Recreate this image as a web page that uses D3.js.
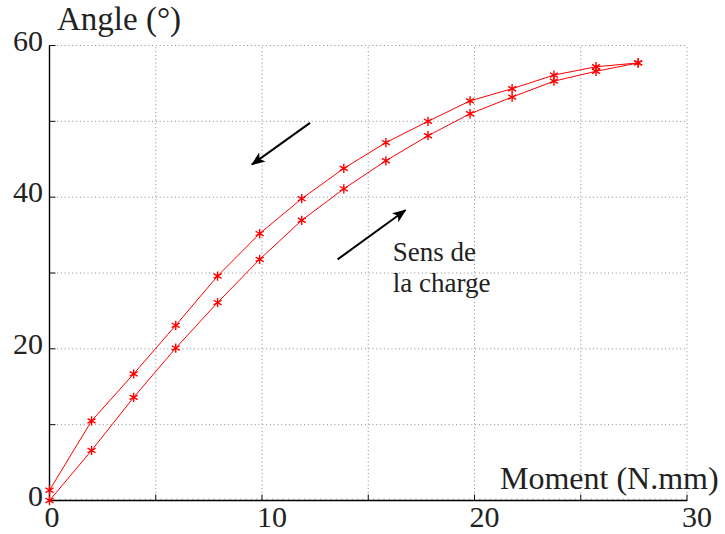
<!DOCTYPE html>
<html>
<head>
<meta charset="utf-8">
<script src="https://cdn.jsdelivr.net/npm/d3@7"></script>
<style>
  body { margin: 0; background: #fff; }
  text { font-family: "Liberation Serif", "Times New Roman", serif; fill: #222; }
</style>
</head>
<body>
<svg id="chart" width="725" height="534"></svg>
<script>
// moment values (N.mm) at each load step
var moment = [0, 1.98, 3.96, 5.94, 7.91, 9.89, 11.87, 13.85, 15.83, 17.81, 19.79, 21.77, 23.74, 25.72, 27.70];
// angle (deg) while loading
var angleCharge = [0, 6.6, 13.6, 20.1, 26.1, 31.8, 36.95, 41.1, 44.8, 48.1, 51.0, 53.2, 55.3, 56.6, 57.7];
// angle (deg) while unloading
var angleDecharge = [1.35, 10.5, 16.7, 23.1, 29.6, 35.2, 39.8, 43.8, 47.2, 50.0, 52.7, 54.3, 56.1, 57.2, 57.7];

var xTickLabels = [0, 10, 20, 30];
var yTickLabels = [0, 20, 40, 60];
var xGrid = [5, 10, 15, 20, 25, 30];
var yGrid = [10, 20, 30, 40, 50, 60];

var svg = d3.select("#chart");

var x = d3.scaleLinear().domain([0, 30]).range([49.5, 687]);
var y = d3.scaleLinear().domain([0, 60]).range([500.5, 45.5]);

// dotted grid
svg.append("g").selectAll("line").data(xGrid).join("line")
    .attr("x1", d => x(d)).attr("x2", d => x(d))
    .attr("y1", y(0)).attr("y2", y(60))
    .attr("stroke", "#888").attr("stroke-width", 1)
    .attr("stroke-dasharray", "1,2.8");
svg.append("g").selectAll("line").data(yGrid).join("line")
    .attr("x1", x(0)).attr("x2", x(30))
    .attr("y1", d => y(d)).attr("y2", d => y(d))
    .attr("stroke", "#888").attr("stroke-width", 1)
    .attr("stroke-dasharray", "1,2.8");

// minor ticks on the bottom axis
svg.append("g").selectAll("line").data(d3.range(0, 30.01, 0.25)).join("line")
    .attr("x1", d => x(d)).attr("x2", d => x(d))
    .attr("y1", y(0)).attr("y2", y(0) - 2)
    .attr("stroke", "#777").attr("stroke-width", 0.6);

// major ticks, pointing inward
svg.append("g").selectAll("line").data(xGrid).join("line")
    .attr("x1", d => x(d)).attr("x2", d => x(d))
    .attr("y1", y(0)).attr("y2", y(0) - 6)
    .attr("stroke", "#111").attr("stroke-width", 1);
svg.append("g").selectAll("line").data(yGrid).join("line")
    .attr("x1", x(0)).attr("x2", x(0) + 6)
    .attr("y1", d => y(d)).attr("y2", d => y(d))
    .attr("stroke", "#111").attr("stroke-width", 1);

// axis lines (left + bottom only)
svg.append("line")
    .attr("x1", x(0)).attr("x2", x(0)).attr("y1", y(0)).attr("y2", y(60))
    .attr("stroke", "#000").attr("stroke-width", 1.4);
svg.append("line")
    .attr("x1", x(0)).attr("x2", x(30)).attr("y1", y(0)).attr("y2", y(0))
    .attr("stroke", "#000").attr("stroke-width", 1.4);

// tick labels
svg.append("g").selectAll("text").data(yTickLabels).join("text")
    .attr("x", 43).attr("y", d => y(d) + 5)
    .attr("text-anchor", "end")
    .style("font-size", "30px")
    .text(d => d);
svg.append("g").selectAll("text").data(xTickLabels).join("text")
    .attr("x", d => x(d) - 5).attr("y", 527)
    .style("font-size", "30px")
    .text(d => d);

// axis titles
svg.append("text").attr("x", 57).attr("y", 30)
    .style("font-size", "33px").text("Angle (°)");
svg.append("text").attr("x", 500).attr("y", 489)
    .style("font-size", "32px").text("Moment (N.mm)");

// curves
var line = d3.line().x(d => x(d[0])).y(d => y(d[1]));
var series = [d3.zip(moment, angleCharge), d3.zip(moment, angleDecharge)];
var star = d3.symbol().type(d3.symbolAsterisk).size(60);

series.forEach(function(pts) {
    svg.append("path").datum(pts)
        .attr("d", line)
        .attr("fill", "none")
        .attr("stroke", "#ff0000")
        .attr("stroke-width", 1);
    svg.append("g").selectAll("path").data(pts).join("path")
        .attr("transform", d => "translate(" + x(d[0]) + "," + y(d[1]) + ")")
        .attr("d", star)
        .attr("fill", "none")
        .attr("stroke", "#ff0000")
        .attr("stroke-width", 1.4);
});

// arrows showing the load direction
svg.append("defs").append("marker")
    .attr("id", "head")
    .attr("viewBox", "0 -6 14 12")
    .attr("refX", 13).attr("refY", 0)
    .attr("markerWidth", 14).attr("markerHeight", 12)
    .attr("markerUnits", "userSpaceOnUse")
    .attr("orient", "auto")
    .append("path")
    .attr("d", "M0,-5.5L14,0L0,5.5L3.5,0Z")
    .attr("fill", "#000");

var arrows = [
    {from: [12.26, 49.8], to: [9.52, 44.3]},
    {from: [13.56, 31.8], to: [16.76, 38.3]}
];
svg.append("g").selectAll("line").data(arrows).join("line")
    .attr("x1", d => x(d.from[0])).attr("y1", d => y(d.from[1]))
    .attr("x2", d => x(d.to[0])).attr("y2", d => y(d.to[1]))
    .attr("stroke", "#000").attr("stroke-width", 2)
    .attr("marker-end", "url(#head)");

var note = svg.append("text")
    .attr("x", x(16.15)).attr("y", y(31.6))
    .style("font-size", "27px");
note.append("tspan").attr("x", x(16.15)).text("Sens de");
note.append("tspan").attr("x", x(16.15)).attr("dy", 31).text("la charge");
</script>
</body>
</html>
